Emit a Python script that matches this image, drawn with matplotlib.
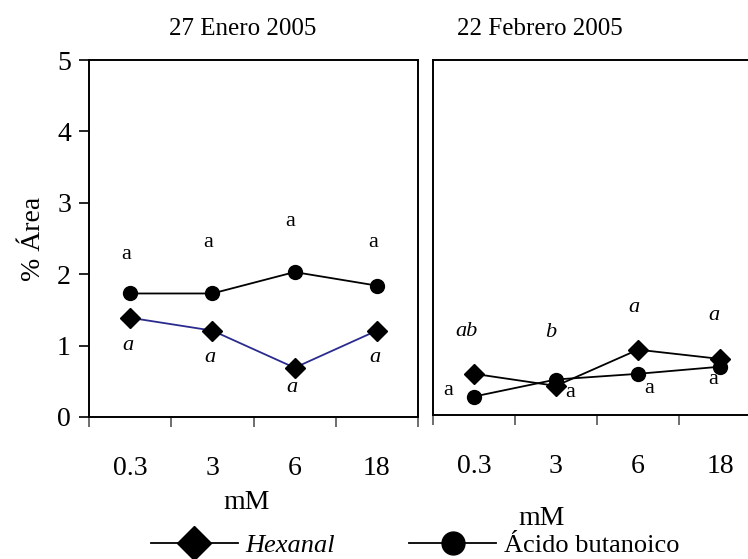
import numpy as np
import matplotlib
matplotlib.use('Agg')
import matplotlib.pyplot as plt
from matplotlib.lines import Line2D

plt.rcParams['font.family'] = ['Liberation Serif', 'DejaVu Serif']

categories = ['0.3', '3', '6', '18']
titles = ['27 Enero 2005', '22 Febrero 2005']

# panel 1: 27 Enero 2005
hexanal_ene = [1.39, 1.21, 0.69, 1.21]
butanoico_ene = [1.73, 1.73, 2.03, 1.84]
# panel 2: 22 Febrero 2005
hexanal_feb = [0.58, 0.41, 0.92, 0.79]
butanoico_feb = [0.26, 0.50, 0.58, 0.68]

# significance letters (upright = butanoico, italic = hexanal)
letters_but_ene = ['a', 'a', 'a', 'a']
letters_hex_ene = ['a', 'a', 'a', 'a']
letters_hex_feb = ['ab', 'b', 'a', 'a']
letters_but_feb = ['a', 'a', 'a', 'a']

W, H = 748, 559
fig = plt.figure(figsize=(W / 100, H / 100), dpi=100)


def px_axes(left, bottom, right, top):
    return fig.add_axes([left / W, 1 - bottom / H, (right - left) / W, (bottom - top) / H])


ax1 = px_axes(89, 417, 418, 60)
ax2 = px_axes(433, 415, 761, 60)

x = np.arange(len(categories))
BLUE = '#2b2b8f'

for ax in (ax1, ax2):
    ax.set_xlim(-0.5, 3.5)
    ax.set_ylim(0, 5)
    ax.set_xticks(x)
    ax.set_xticklabels(categories, fontsize=20)
    ax.set_xticks(np.arange(-0.5, 4, 1.0), minor=True)
    ax.tick_params(axis='x', which='major', length=0, pad=28)
    ax.tick_params(axis='x', which='minor', direction='out', length=7, width=1.2, color='#555555')
    for s in ax.spines.values():
        s.set_linewidth(1.4)
    ax.set_xlabel('mM', fontsize=20)

ax1.set_yticks(range(6))
ax1.tick_params(axis='y', direction='out', length=7, width=1.2, labelsize=20, pad=6)
ax1.set_ylabel('% Área', fontsize=20, labelpad=8)
ax1.xaxis.set_label_coords(0.48, -0.205)

ax2.set_yticks([])
ax2.spines['right'].set_visible(False)
ax2.xaxis.set_label_coords(0.33, -0.255)

for t, cx in ((titles[0], 243), (titles[1], 540)):
    fig.text(cx / W, 1 - 29 / H, t, ha='center', va='center', fontsize=18)

line_kw = dict(lw=1.3, clip_on=False)
ax1.plot(x, butanoico_ene, color='black', marker='o', ms=10, **line_kw)
ax1.plot(x, hexanal_ene, color=BLUE, marker='D', ms=10.5, mfc='black', mec='black', **line_kw)
ax2.plot(x, hexanal_feb, color='black', marker='D', ms=10.5, **line_kw)
ax2.plot(x, butanoico_feb, color='black', marker='o', ms=10, **line_kw)

# letters, panel 1
for i, (yv, lab) in enumerate(zip([2.27, 2.44, 2.74, 2.44], letters_but_ene)):
    ax1.text(x[i] - 0.05, yv, lab, ha='center', va='center', fontsize=16)
for i, (yv, lab) in enumerate(zip([1.0, 0.84, 0.42, 0.84], letters_hex_ene)):
    ax1.text(x[i] - 0.03, yv, lab, ha='center', va='center', fontsize=16, style='italic')

# letters, panel 2
for i, (xo, yv, lab) in enumerate(zip([-0.09, -0.06, -0.05, -0.08], [1.17, 1.16, 1.51, 1.40], letters_hex_feb)):
    ax2.text(x[i] + xo, yv, lab, ha='center', va='center', fontsize=16, style='italic')
for i, (xo, yv, lab) in enumerate(zip([-0.32, 0.17, 0.14, -0.08], [0.35, 0.32, 0.37, 0.50], letters_but_feb)):
    ax2.text(x[i] + xo, yv, lab, ha='center', va='center', fontsize=16)

handles = [
    Line2D([], [], color='black', lw=1.3, marker='D', ms=17),
    Line2D([], [], color='black', lw=1.3, marker='o', ms=16.5),
]
leg = fig.legend(handles, ['Hexanal', 'Ácido butanoico'], loc='center',
                 bbox_to_anchor=(0.555, 0.025), ncol=2, frameon=False,
                 fontsize=19, handlelength=3.3, handletextpad=0.3, columnspacing=2.8)
leg.get_texts()[0].set_style('italic')

fig.savefig('out.png', dpi=100)
